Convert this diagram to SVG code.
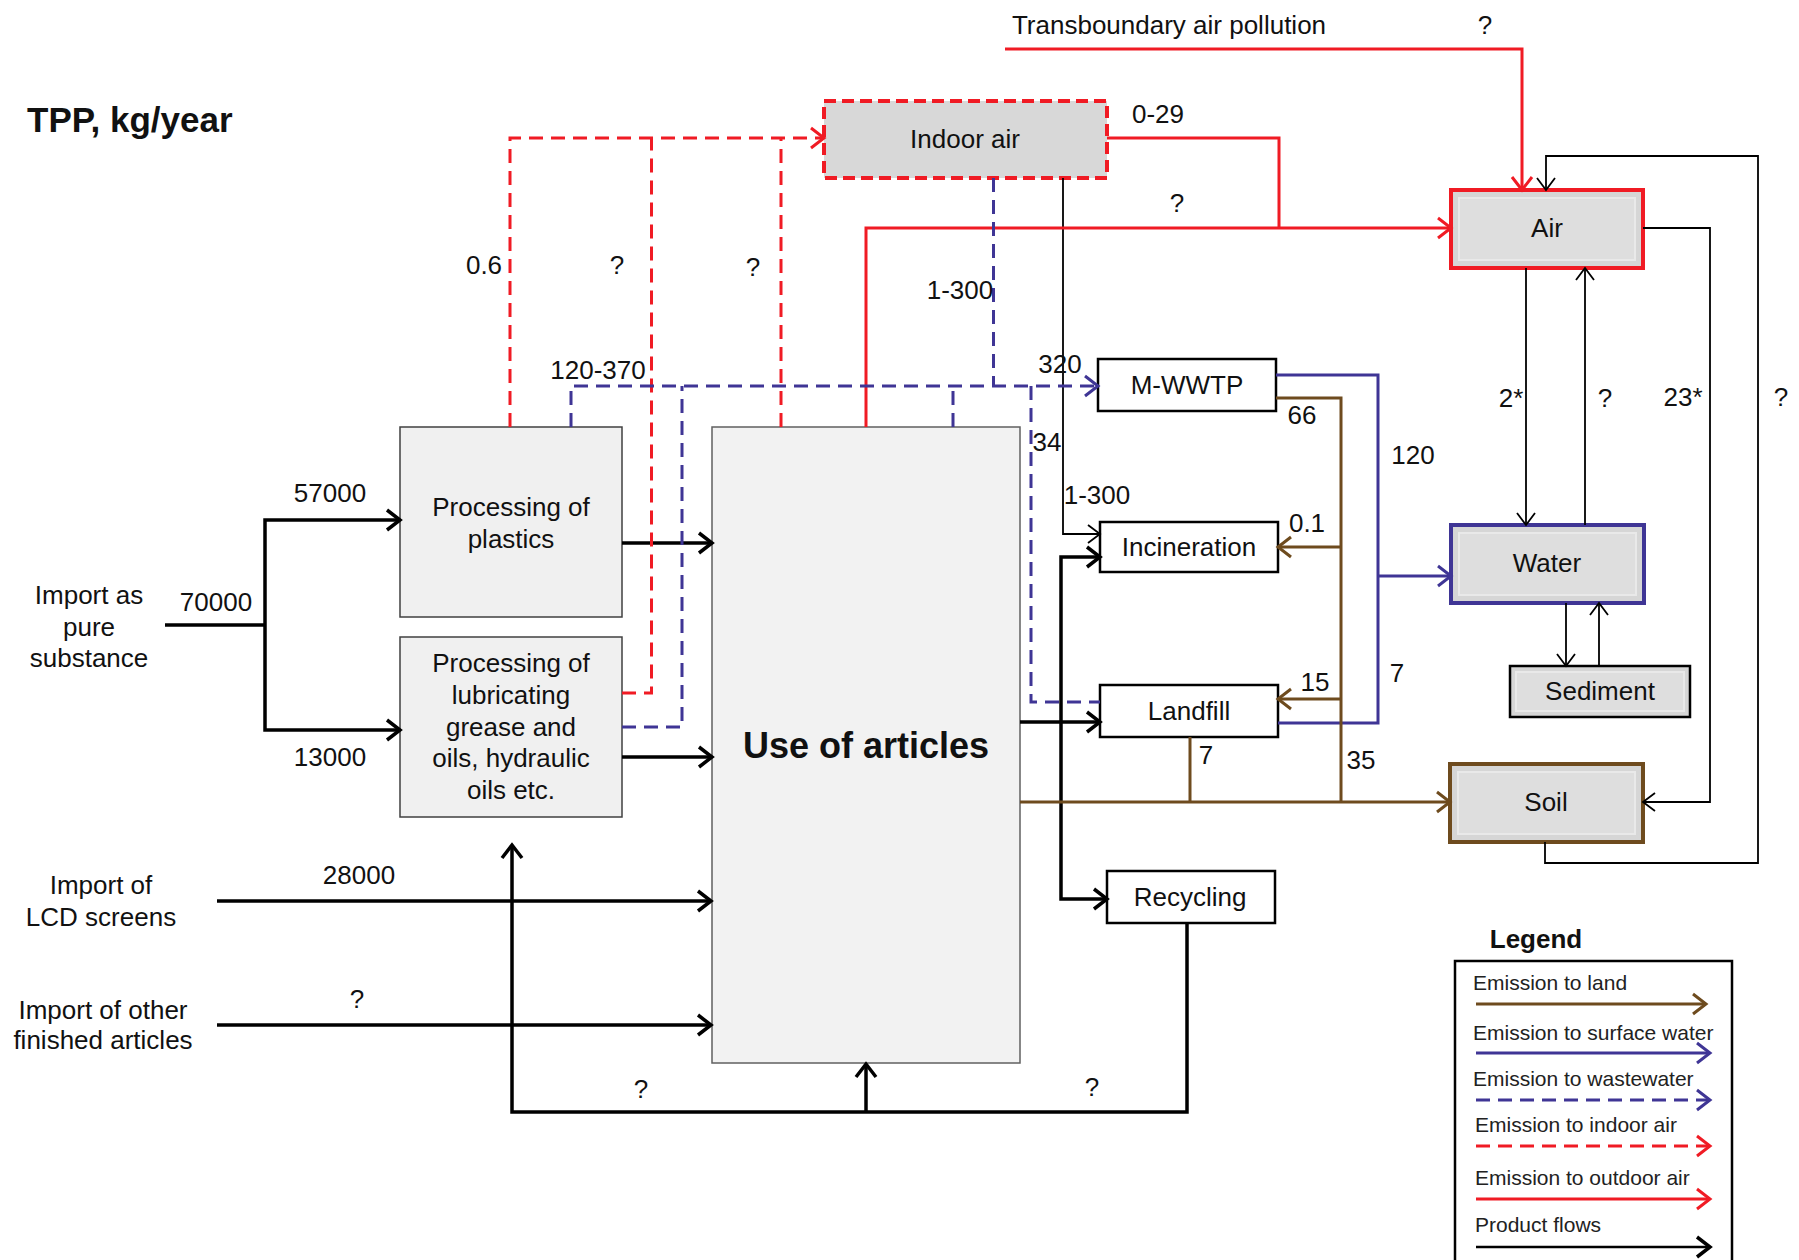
<svg xmlns="http://www.w3.org/2000/svg" width="1799" height="1260" viewBox="0 0 1799 1260">
  <style>
    text { font-family: "Liberation Sans", Arial, sans-serif; fill: #111; }
    .lbl { font-size: 26px; text-anchor: middle; }
    .lg { font-size: 21px; fill: #222; }
    .pf { fill: none; stroke: #000; stroke-width: 3.5; }
    .tf { fill: none; stroke: #000; stroke-width: 1.8; }
    .red { fill: none; stroke: #f01b24; stroke-width: 3; }
    .redd { fill: none; stroke: #f01b24; stroke-width: 3; stroke-dasharray: 14 8; }
    .blu { fill: none; stroke: #3f3595; stroke-width: 3; }
    .blud { fill: none; stroke: #3f3595; stroke-width: 3; stroke-dasharray: 14 8; }
    .brn { fill: none; stroke: #6e4b1e; stroke-width: 3; }
    .proc { fill: #f0f0f0; stroke: #404040; stroke-width: 1.5; }
    .sink { fill: #ffffff; stroke: #000; stroke-width: 2.5; }
    .comp { fill: #d6d6d6; }
    .bevel { fill: #dedede; stroke: #e9e9e9; stroke-width: 2; }
  </style>
  <defs>
    <marker id="ah-k" markerUnits="userSpaceOnUse" markerWidth="22" markerHeight="26" refX="17" refY="13" orient="auto" overflow="visible">
      <path d="M4,3 L17,13 L4,23" fill="none" stroke="#000" stroke-width="3.5"/>
    </marker>
    <marker id="ah-t" markerUnits="userSpaceOnUse" markerWidth="22" markerHeight="26" refX="17" refY="13" orient="auto" overflow="visible">
      <path d="M5,4 L17,13 L5,22" fill="none" stroke="#000" stroke-width="1.8"/>
    </marker>
    <marker id="ah-r" markerUnits="userSpaceOnUse" markerWidth="22" markerHeight="26" refX="17" refY="13" orient="auto" overflow="visible">
      <path d="M4,3 L17,13 L4,23" fill="none" stroke="#f01b24" stroke-width="3"/>
    </marker>
    <marker id="ah-b" markerUnits="userSpaceOnUse" markerWidth="22" markerHeight="26" refX="17" refY="13" orient="auto" overflow="visible">
      <path d="M4,3 L17,13 L4,23" fill="none" stroke="#3f3595" stroke-width="3"/>
    </marker>
    <marker id="ah-n" markerUnits="userSpaceOnUse" markerWidth="22" markerHeight="26" refX="17" refY="13" orient="auto" overflow="visible">
      <path d="M4,3 L17,13 L4,23" fill="none" stroke="#6e4b1e" stroke-width="3"/>
    </marker>
  </defs>

  <rect width="1799" height="1260" fill="#ffffff"/>

  <text x="27" y="132" font-size="35" font-weight="bold">TPP, kg/year</text>

  <!-- process boxes -->
  <g id="proc-plastics">
    <rect class="proc" x="400" y="427" width="222" height="190"/>
    <text class="lbl" x="511" y="516">Processing of</text>
    <text class="lbl" x="511" y="548">plastics</text>
  </g>
  <g id="proc-lubricants">
    <rect class="proc" x="400" y="637" width="222" height="180"/>
    <text class="lbl" x="511" y="672">Processing of</text>
    <text class="lbl" x="511" y="704">lubricating</text>
    <text class="lbl" x="511" y="736">grease and</text>
    <text class="lbl" x="511" y="767">oils, hydraulic</text>
    <text class="lbl" x="511" y="799">oils etc.</text>
  </g>
  <g id="use-of-articles">
    <rect x="712" y="427" width="308" height="636" fill="#f2f2f2" stroke="#606060" stroke-width="1.5"/>
    <text x="866" y="758" font-size="36" font-weight="bold" text-anchor="middle">Use of articles</text>
  </g>
  <g id="indoor-air">
    <rect x="824" y="101" width="283" height="77" fill="#d8d8d8" stroke="#f01b24" stroke-width="4" stroke-dasharray="12 6"/>
    <text class="lbl" x="965" y="148">Indoor air</text>
  </g>
  <g id="m-wwtp">
    <rect class="sink" x="1098" y="359" width="178" height="52"/>
    <text class="lbl" x="1187" y="394">M-WWTP</text>
  </g>
  <g id="incineration">
    <rect class="sink" x="1100" y="522" width="178" height="50"/>
    <text class="lbl" x="1189" y="556">Incineration</text>
  </g>
  <g id="landfill">
    <rect class="sink" x="1100" y="685" width="178" height="52"/>
    <text class="lbl" x="1189" y="720">Landfill</text>
  </g>
  <g id="recycling">
    <rect class="sink" x="1107" y="871" width="168" height="52"/>
    <text class="lbl" x="1190" y="906">Recycling</text>
  </g>

  <!-- environmental compartments -->
  <g id="air">
    <rect class="comp" x="1451" y="190" width="192" height="78"/>
    <rect class="bevel" x="1459" y="198" width="176" height="62"/>
    <rect x="1451" y="190" width="192" height="78" fill="none" stroke="#f01b24" stroke-width="4"/>
    <text class="lbl" x="1547" y="237">Air</text>
  </g>
  <g id="water">
    <rect class="comp" x="1451" y="525" width="193" height="78"/>
    <rect class="bevel" x="1459" y="533" width="177" height="62"/>
    <rect x="1451" y="525" width="193" height="78" fill="none" stroke="#3f3595" stroke-width="4"/>
    <text class="lbl" x="1547" y="572">Water</text>
  </g>
  <g id="sediment">
    <rect class="comp" x="1510" y="666" width="180" height="51"/>
    <rect class="bevel" x="1516" y="672" width="168" height="39"/>
    <rect x="1510" y="666" width="180" height="51" fill="none" stroke="#000" stroke-width="2.5"/>
    <text class="lbl" x="1600" y="700">Sediment</text>
  </g>
  <g id="soil">
    <rect class="comp" x="1450" y="764" width="193" height="78"/>
    <rect class="bevel" x="1458" y="772" width="177" height="62"/>
    <rect x="1450" y="764" width="193" height="78" fill="none" stroke="#6e4b1e" stroke-width="4"/>
    <text class="lbl" x="1546" y="811">Soil</text>
  </g>

  <!-- flows -->
  <g id="connectors">
    <!-- product flows -->
    <path class="pf" d="M165,625 H265"/>
    <path class="pf" d="M265,625 V520 H400" marker-end="url(#ah-k)"/>
    <path class="pf" d="M265,625 V730 H400" marker-end="url(#ah-k)"/>
    <path class="pf" d="M622,543 H712" marker-end="url(#ah-k)"/>
    <path class="pf" d="M622,757 H712" marker-end="url(#ah-k)"/>
    <path class="pf" d="M217,901 H711" marker-end="url(#ah-k)"/>
    <path class="pf" d="M217,1025 H711" marker-end="url(#ah-k)"/>
    <path class="pf" d="M1020,722 H1100" marker-end="url(#ah-k)"/>
    <path class="pf" d="M1061,722 V557 H1100" marker-end="url(#ah-k)"/>
    <path class="pf" d="M1061,722 V899 H1107" marker-end="url(#ah-k)"/>
    <path class="pf" d="M1187,923 V1112 H512 V845" marker-end="url(#ah-k)"/>
    <path class="pf" d="M866,1112 V1064" marker-end="url(#ah-k)"/>

    <!-- transfers between compartments -->
    <path class="tf" d="M1063,178 V534 H1100" marker-end="url(#ah-t)"/>
    <path class="tf" d="M1545,842 V863 H1758 V156 H1546 V190" marker-end="url(#ah-t)"/>
    <path class="tf" d="M1643,228 H1710 V802 H1643" marker-end="url(#ah-t)"/>
    <path class="tf" d="M1526,268 V525" marker-end="url(#ah-t)"/>
    <path class="tf" d="M1585,525 V268" marker-end="url(#ah-t)"/>
    <path class="tf" d="M1566,603 V666" marker-end="url(#ah-t)"/>
    <path class="tf" d="M1599,666 V603" marker-end="url(#ah-t)"/>

    <!-- outdoor air -->
    <path class="red" d="M1005,49 H1522 V190" marker-end="url(#ah-r)"/>
    <path class="red" d="M866,427 V228 H1451" marker-end="url(#ah-r)"/>
    <path class="red" d="M1107,138 H1279 V228"/>

    <!-- indoor air -->
    <path class="redd" d="M510,427 V138 H824" marker-end="url(#ah-r)"/>
    <path class="redd" d="M622,693 H651.5 V138"/>
    <path class="redd" d="M781,427 V138"/>

    <!-- wastewater -->
    <path class="blud" d="M571,427 V386 H1098" marker-end="url(#ah-b)"/>
    <path class="blud" d="M622,727 H682 V386"/>
    <path class="blud" d="M953,427 V386"/>
    <path class="blud" d="M993.5,178 V386"/>
    <path class="blud" d="M1031,386 V702 H1100"/>

    <!-- surface water -->
    <path class="blu" d="M1276,375 H1378 V723 H1278"/>
    <path class="blu" d="M1378,576 H1451" marker-end="url(#ah-b)"/>

    <!-- land -->
    <path class="brn" d="M1276,398 H1341 V802"/>
    <path class="brn" d="M1341,547 H1278" marker-end="url(#ah-n)"/>
    <path class="brn" d="M1341,699 H1278" marker-end="url(#ah-n)"/>
    <path class="brn" d="M1190,737 V802"/>
    <path class="brn" d="M1020,802 H1450" marker-end="url(#ah-n)"/>
  </g>

  <!-- flow labels -->
  <g id="labels">
    <text class="lbl" x="89" y="604">Import as</text>
    <text class="lbl" x="89" y="636">pure</text>
    <text class="lbl" x="89" y="667">substance</text>
    <text class="lbl" x="216" y="611">70000</text>
    <text class="lbl" x="330" y="502">57000</text>
    <text class="lbl" x="330" y="766">13000</text>
    <text class="lbl" x="101" y="894">Import of</text>
    <text class="lbl" x="101" y="926">LCD screens</text>
    <text class="lbl" x="359" y="884">28000</text>
    <text class="lbl" x="103" y="1019">Import of other</text>
    <text class="lbl" x="103" y="1049">finished articles</text>
    <text class="lbl" x="357" y="1008">?</text>
    <text class="lbl" x="641" y="1098">?</text>
    <text class="lbl" x="1092" y="1096">?</text>
    <text class="lbl" x="484" y="274">0.6</text>
    <text class="lbl" x="617" y="274">?</text>
    <text class="lbl" x="753" y="276">?</text>
    <text class="lbl" x="598" y="379">120-370</text>
    <text class="lbl" x="960" y="299">1-300</text>
    <text class="lbl" x="1060" y="373">320</text>
    <text class="lbl" x="1047" y="451">34</text>
    <text class="lbl" x="1097" y="504">1-300</text>
    <text class="lbl" x="1302" y="424">66</text>
    <text class="lbl" x="1413" y="464">120</text>
    <text class="lbl" x="1307" y="532">0.1</text>
    <text class="lbl" x="1315" y="691">15</text>
    <text class="lbl" x="1397" y="682">7</text>
    <text class="lbl" x="1206" y="764">7</text>
    <text class="lbl" x="1361" y="769">35</text>
    <text class="lbl" x="1511" y="407">2*</text>
    <text class="lbl" x="1605" y="407">?</text>
    <text class="lbl" x="1683" y="406">23*</text>
    <text class="lbl" x="1781" y="406">?</text>
    <text class="lbl" x="1158" y="123">0-29</text>
    <text class="lbl" x="1177" y="212">?</text>
    <text class="lbl" x="1169" y="34">Transboundary air pollution</text>
    <text class="lbl" x="1485" y="34">?</text>
  </g>

  <!-- legend -->
  <g id="legend">
    <text x="1536" y="948" font-size="26" font-weight="bold" text-anchor="middle">Legend</text>
    <path d="M1455,1270 V961 H1732 V1270" fill="#ffffff" stroke="#000" stroke-width="2.5"/>
    <text class="lg" x="1473" y="990">Emission to land</text>
    <path class="brn" d="M1476,1004 H1706" marker-end="url(#ah-n)"/>
    <text class="lg" x="1473" y="1040">Emission to surface water</text>
    <path class="blu" d="M1476,1053 H1710" marker-end="url(#ah-b)"/>
    <text class="lg" x="1473" y="1086">Emission to wastewater</text>
    <path class="blud" d="M1476,1100 H1710" marker-end="url(#ah-b)"/>
    <text class="lg" x="1475" y="1132">Emission to indoor air</text>
    <path class="redd" d="M1476,1146 H1710" marker-end="url(#ah-r)"/>
    <text class="lg" x="1475" y="1185">Emission to outdoor air</text>
    <path class="red" d="M1476,1199 H1710" marker-end="url(#ah-r)"/>
    <text class="lg" x="1475" y="1232">Product flows</text>
    <path d="M1476,1247 H1710" fill="none" stroke="#000" stroke-width="2.5" marker-end="url(#ah-k)"/>
  </g>
</svg>
